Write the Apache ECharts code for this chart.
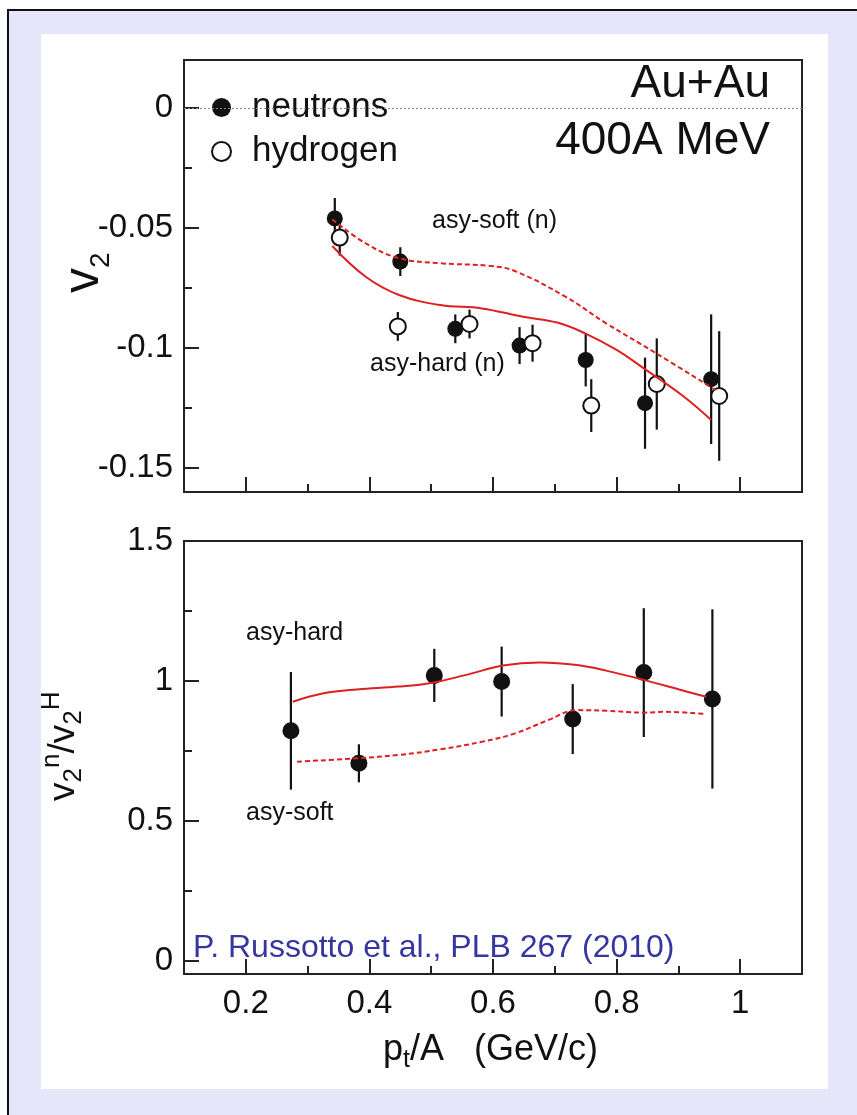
<!DOCTYPE html>
<html>
<head>
<meta charset="utf-8">
<title>v2 neutrons / hydrogen</title>
<script src="https://cdn.jsdelivr.net/npm/echarts@6/dist/echarts.min.js"></script>
<style>
  body { margin: 0; background: #fff; overflow: hidden; }
  #frame { position: absolute; left: 7px; top: 9px; width: 848px; height: 1106px;
           border-left: 2px solid #111; border-top: 2px solid #111; background: #e6e6fa; }
  #paper { position: absolute; left: 41px; top: 34px; width: 787px; height: 1055px; background: #fff; }
  #chart { position: absolute; left: 0; top: 0; width: 857px; height: 1115px; }
</style>
</head>
<body>
<div id="frame"></div>
<div id="paper"></div>
<div id="chart"></div>
<script type="text/javascript">

// ---- top panel: v2 of neutrons and hydrogen ----
const ptN    = [0.344, 0.450, 0.539, 0.643, 0.750, 0.846, 0.953];
const v2N    = [-0.046, -0.064, -0.092, -0.099, -0.105, -0.123, -0.113];
const v2NErr = [0.0085, 0.006, 0.006, 0.0077, 0.011, 0.019, 0.027];

const ptH    = [0.352, 0.446, 0.562, 0.664, 0.759, 0.865, 0.966];
const v2H    = [-0.054, -0.091, -0.090, -0.098, -0.124, -0.115, -0.120];
const v2HErr = [0.0075, 0.006, 0.006, 0.0077, 0.011, 0.019, 0.027];

// model curves (UrQMD), top panel
const softTopX = [0.340, 0.394, 0.448, 0.515, 0.595, 0.636, 0.717, 0.783, 0.864, 0.960];
const softTopY = [-0.0464, -0.0564, -0.0626, -0.0647, -0.0658, -0.068, -0.0786, -0.0897, -0.1022, -0.1175];
const hardTopX = [0.340, 0.394, 0.448, 0.515, 0.582, 0.649, 0.704, 0.749, 0.800, 0.844, 0.909, 0.953];
const hardTopY = [-0.0575, -0.0703, -0.0779, -0.0821, -0.0835, -0.087, -0.0894, -0.0939, -0.1008, -0.1085, -0.1203, -0.130];

// ---- bottom panel: ratio v2n / v2H ----
const ptR      = [0.273, 0.383, 0.505, 0.614, 0.729, 0.844, 0.955];
const ratio    = [0.822, 0.706, 1.020, 0.998, 0.864, 1.030, 0.936];
const ratioErr = [0.21, 0.068, 0.095, 0.125, 0.125, 0.23, 0.32];

const hardBotX = [0.276, 0.326, 0.380, 0.448, 0.502, 0.555, 0.616, 0.676, 0.736, 0.783, 0.844, 0.904, 0.945];
const hardBotY = [0.926, 0.956, 0.970, 0.980, 0.994, 1.021, 1.055, 1.066, 1.057, 1.037, 1.004, 0.968, 0.944];
const softBotX = [0.283, 0.380, 0.448, 0.515, 0.582, 0.636, 0.690, 0.736, 0.783, 0.844, 0.877, 0.945];
const softBotY = [0.712, 0.724, 0.736, 0.756, 0.783, 0.813, 0.861, 0.896, 0.894, 0.887, 0.890, 0.882];

// ticks
const xMajor = [0.2, 0.4, 0.6, 0.8, 1.0];
const xMinor = [0.3, 0.5, 0.7, 0.9];
const yTopMajor = [0, -0.05, -0.1, -0.15];
const yTopMinor = [-0.025, -0.075, -0.125];
const yBotMajor = [0, 0.5, 1, 1.5];
const yBotMinor = [0.25, 0.75, 1.25];

const FONT = '"Liberation Sans", Arial, sans-serif';
const RED = '#dd2020';
const INK = '#111';

const zip = (a, b) => a.map((v, i) => [v, b[i]]);
const bars = (x, y, e) => x.map((v, i) => [v, y[i] - e[i], y[i] + e[i]]);

// measure text so sub/superscripts can be placed by hand
const mctx = document.createElement('canvas').getContext('2d');
function tw(s, size) { mctx.font = size + 'px ' + FONT; return mctx.measureText(s).width; }

// a row of text pieces, each {t, size, dy}
function pieces(list) {
  let x = 0;
  return list.map(p => {
    const el = { type: 'text', x: x, y: p.dy || 0,
      style: { text: p.t, fontSize: p.size, fontFamily: FONT, fill: INK,
               align: 'left', verticalAlign: 'middle', textAlign: 'left', textVerticalAlign: 'middle' } };
    x += tw(p.t, p.size);
    return el;
  });
}

function label(txt, x, y, size, align, color) {
  return { type: 'text', x: x, y: y,
    style: { text: txt, fontSize: size, fontFamily: FONT, fill: color || INK,
             align: align, verticalAlign: 'middle', textAlign: align, textVerticalAlign: 'middle' } };
}

function xAx(grid, ticks, len, labels) {
  return { type: 'value', gridIndex: grid, min: 0.1, max: 1.1, position: 'bottom',
    axisLine: { show: false, onZero: false }, splitLine: { show: false },
    axisTick: { show: true, inside: true, length: len, customValues: ticks, lineStyle: { color: '#222', width: 2 } },
    axisLabel: { show: !!labels, customValues: labels || [], margin: 13, fontSize: 33, color: INK, fontFamily: FONT } };
}
function yAx(grid, min, max, ticks, len, labels) {
  return { type: 'value', gridIndex: grid, min: min, max: max, position: 'left',
    axisLine: { show: false, onZero: false }, splitLine: { show: false },
    axisTick: { show: true, inside: true, length: len, customValues: ticks, lineStyle: { color: '#222', width: 2 } },
    axisLabel: { show: !!labels, customValues: labels || [], margin: 11, fontSize: 33, color: INK, fontFamily: FONT } };
}

function errRender(params, api) {
  const a = api.coord([api.value(0), api.value(1)]);
  const b = api.coord([api.value(0), api.value(2)]);
  return { type: 'line', shape: { x1: a[0], y1: a[1], x2: b[0], y2: b[1] },
           style: { stroke: INK, lineWidth: 2.2 } };
}

const chart = echarts.init(document.getElementById('chart'));

chart.setOption({
  animation: false,
  backgroundColor: 'transparent',
  grid: [
    { left: 184, top: 60, width: 618, height: 432, show: true, borderColor: '#222', borderWidth: 2, outerBoundsMode: 'none' },
    { left: 184, top: 541, width: 618, height: 433, show: true, borderColor: '#222', borderWidth: 2, outerBoundsMode: 'none' }
  ],
  xAxis: [
    xAx(0, xMajor, 15, null),
    xAx(0, xMinor, 8, null),
    xAx(1, xMajor, 15, xMajor),
    xAx(1, xMinor, 8, null)
  ],
  yAxis: [
    yAx(0, -0.16, 0.02, yTopMajor, 15, yTopMajor),
    yAx(0, -0.16, 0.02, yTopMinor, 8, null),
    yAx(1, -0.0464, 1.5, yBotMajor, 15, yBotMajor),
    yAx(1, -0.0464, 1.5, yBotMinor, 8, null)
  ],
  legend: {
    data: ['neutrons', 'hydrogen'], orient: 'vertical', left: 206, top: 85,
    itemWidth: 19, itemHeight: 19, itemGap: 9, selectedMode: false,
    textStyle: { fontSize: 35, fontFamily: FONT, color: INK, padding: [0, 0, 0, 16] }
  },
  graphic: [
    label('Au+Au', 770, 84, 46, 'right'),
    label('400A MeV', 770, 141, 46, 'right'),
    label('asy-soft (n)', 432, 221, 25, 'left'),
    label('asy-hard (n)', 370, 364, 25, 'left'),
    label('asy-hard', 246, 633, 25, 'left'),
    label('asy-soft', 246, 813, 25, 'left'),
    label('P. Russotto et al., PLB 267 (2010)', 193, 948, 32, 'left', '#3636a0'),
    { type: 'group', x: 383, y: 1050, children: pieces([
        { t: 'p', size: 36 }, { t: 't', size: 25, dy: 10 }, { t: '/A   (GeV/c)', size: 36 }]) },
    { type: 'group', x: 84, y: 293, rotation: Math.PI / 2, children: pieces([
        { t: 'v', size: 50 }, { t: '2', size: 28, dy: 17 }]) },
    { type: 'group', x: 64, y: 801, rotation: Math.PI / 2, children: pieces([
        { t: 'v', size: 37 }, { t: '2', size: 26, dy: 10 }, { t: 'n', size: 26, dy: -12 },
        { t: '/', size: 37 }, { t: 'v', size: 37 }, { t: '2', size: 26, dy: 10 }, { t: 'H', size: 26, dy: -12 }]) }
  ],
  series: [
    { type: 'line', xAxisIndex: 0, yAxisIndex: 0, data: zip(softTopX, softTopY), smooth: 0.4,
      showSymbol: false, lineStyle: { color: RED, width: 2, type: [5, 3] },
      markLine: { silent: true, symbol: 'none', label: { show: false },
                  lineStyle: { color: '#888', width: 1.2, type: [2, 2] }, data: [{ yAxis: 0 }] } },
    { type: 'line', xAxisIndex: 0, yAxisIndex: 0, data: zip(hardTopX, hardTopY), smooth: 0.4,
      showSymbol: false, lineStyle: { color: RED, width: 2 } },
    { type: 'custom', xAxisIndex: 0, yAxisIndex: 0, renderItem: errRender,
      encode: { x: 0, y: [1, 2] }, data: bars(ptN, v2N, v2NErr) },
    { type: 'custom', xAxisIndex: 0, yAxisIndex: 0, renderItem: errRender,
      encode: { x: 0, y: [1, 2] }, data: bars(ptH, v2H, v2HErr) },
    { name: 'neutrons', type: 'scatter', xAxisIndex: 0, yAxisIndex: 0, data: zip(ptN, v2N),
      symbol: 'circle', symbolSize: 16, itemStyle: { color: INK, opacity: 1 } },
    { name: 'hydrogen', type: 'scatter', xAxisIndex: 0, yAxisIndex: 0, data: zip(ptH, v2H),
      symbol: 'circle', symbolSize: 16, itemStyle: { color: '#fff', borderColor: INK, borderWidth: 2, opacity: 1 } },

    { type: 'line', xAxisIndex: 2, yAxisIndex: 2, data: zip(hardBotX, hardBotY), smooth: 0.4,
      showSymbol: false, lineStyle: { color: RED, width: 2 } },
    { type: 'line', xAxisIndex: 2, yAxisIndex: 2, data: zip(softBotX, softBotY), smooth: 0.4,
      showSymbol: false, lineStyle: { color: RED, width: 2, type: [5, 3] } },
    { type: 'custom', xAxisIndex: 2, yAxisIndex: 2, renderItem: errRender,
      encode: { x: 0, y: [1, 2] }, data: bars(ptR, ratio, ratioErr) },
    { type: 'scatter', xAxisIndex: 2, yAxisIndex: 2, data: zip(ptR, ratio),
      symbol: 'circle', symbolSize: 17, itemStyle: { color: INK, opacity: 1 } }
  ]
});
</script>
</body>
</html>
